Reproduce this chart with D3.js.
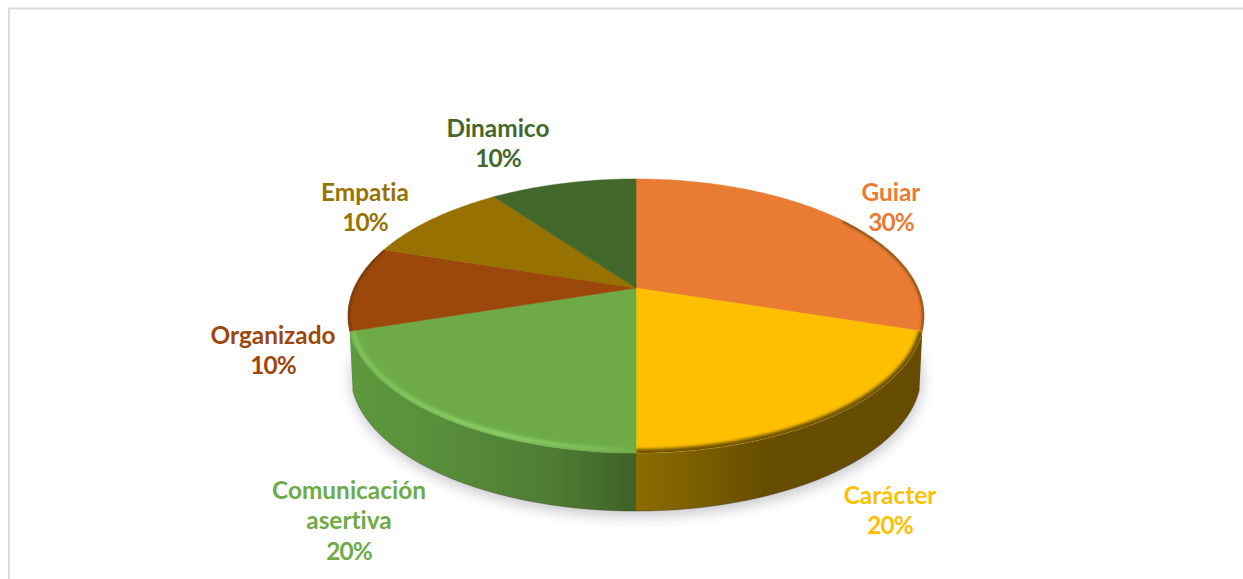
<!DOCTYPE html>
<html>
<head>
<meta charset="utf-8">
<script src="https://cdn.jsdelivr.net/npm/d3@7/dist/d3.min.js"></script>
<style>
  html, body { margin: 0; padding: 0; background: #fff; }
  svg { display: block; }
  text { font-family: Lato, "Open Sans", sans-serif; font-weight: 700; font-variant-ligatures: none; }
</style>
</head>
<body>
<svg id="chart" width="1243" height="579"></svg>
<script>
// Share of each leadership trait
const categories = ["Guiar", "Carácter", "Comunicación asertiva", "Organizado", "Empatia", "Dinamico"];
const shares = [30, 20, 20, 10, 10, 10];

// Face colour of each wedge, also used for its label
const faceColors = ["#E97B33", "#FDBF00", "#6EAB47", "#9C470B", "#977200", "#43682B"];

// Label block centres and line breaks
const labelCenterX = [891, 890, 349, 273, 365, 498];
const labelFirstLineY = [192, 495, 490, 335, 192, 128];
const labelLines = [["Guiar"], ["Carácter"], ["Comunicación", "asertiva"], ["Organizado"], ["Empatia"], ["Dinamico"]];

const W = 1243, H = 579;
const svg = d3.select("#chart");
const defs = svg.append("defs");

// Perspective disc: the pie's centre sits above the centre of the projected ellipse
const cx = 636, cy = 288, halfWidth = 282, halfDepth = 131.3, tilt = -0.2044;
const wallDrop = 58, wallScale = 0.99;

function rimPoint(angle, lower) {
  const u = Math.sin(angle), v = -Math.cos(angle);
  const w = 1 + tilt * v;
  const s = lower ? wallScale : 1;
  return [
    cx + s * halfWidth * u / w,
    cy + (lower ? wallDrop : 0) + halfDepth * v / w
  ];
}

const step = Math.PI / 180;
const sweep = (a0, a1) => {
  const n = Math.max(2, Math.ceil(Math.abs(a1 - a0) / step));
  return d3.range(n + 1).map(i => a0 + (a1 - a0) * i / n);
};
const line = d3.line();
const closed = d3.line().curve(d3.curveLinearClosed);

const arcs = d3.pie().sort(null).value(d => d)(shares);
const total = d3.sum(shares);
const pct = d3.format(".0%");

// Frame of the chart area, open to the right and below
svg.append("path")
  .attr("d", `M9,${H} V8.5 H${W}`)
  .attr("fill", "none").attr("stroke", "#dcdcdc").attr("stroke-width", 2);

// Filters
const blur = (id, sd) => defs.append("filter")
  .attr("id", id).attr("x", "-20%").attr("y", "-20%").attr("width", "140%").attr("height", "140%")
  .append("feGaussianBlur").attr("stdDeviation", sd);
blur("softShadow", 7);
blur("softRim", 1.8);

// Horizontal shading for the visible walls
function wallGradient(id, stops) {
  const g = defs.append("linearGradient").attr("id", id)
    .attr("gradientUnits", "userSpaceOnUse").attr("x1", 347).attr("x2", 925).attr("y1", 0).attr("y2", 0);
  stops.forEach(([x, c]) => g.append("stop").attr("offset", (x - 347) / 578).attr("stop-color", c));
}
wallGradient("wall1", [[636, "#8b6c00"], [700, "#7a5d00"], [770, "#654c00"], [925, "#654c00"]]);
wallGradient("wall2", [[347, "#5f993d"], [450, "#578c3a"], [560, "#4c7b32"], [636, "#3f6127"]]);
wallGradient("rim2", [[347, "#7fc15a"], [500, "#8ccf66"], [600, "#7cbb57"], [636, "#6fac49"]]);

const faceRoot = svg.append("g");

// Ground shadow under the disc
const outerAngles = sweep(0, 2 * Math.PI);
faceRoot.append("path")
  .attr("d", closed(outerAngles.map(a => {
    const p = rimPoint(a, true);
    return [p[0] + 1, p[1] + 5];
  })))
  .attr("fill", "#8d8d9a").attr("opacity", 0.5)
  .attr("filter", "url(#softShadow)");

// Only the two large front wedges show a wall; the others end at the silhouette
const wallWedges = new Set([1, 2]);
arcs.forEach((d, i) => {
  if (!wallWedges.has(i)) return;
  const top = sweep(d.startAngle, d.endAngle).map(a => rimPoint(a, false));
  const bottom = sweep(d.endAngle, d.startAngle).map(a => rimPoint(a, true));
  faceRoot.append("path")
    .attr("d", closed(top.concat(bottom)))
    .attr("fill", `url(#wall${i})`);
});

// Clean dark line along the base of the walls
faceRoot.append("path")
  .attr("d", line(sweep(108 * step, 252 * step).map(a => rimPoint(a, true))))
  .attr("fill", "none").attr("stroke", "#3b3a1e").attr("stroke-width", 0.8).attr("opacity", 0.5);

// Top face wedges
const wedge = d => closed([[cx, cy]].concat(sweep(d.startAngle, d.endAngle).map(a => rimPoint(a, false))));
arcs.forEach((d, i) => {
  faceRoot.append("path")
    .attr("d", wedge(d))
    .attr("fill", faceColors[i])
    .attr("stroke", faceColors[i]).attr("stroke-width", 0.5);
});

// Soft bevel at the rim, kept inside each wedge; sweep limits are in degrees
const rimStyles = [
  { stroke: "#5e4510", width: 3, from: 55, to: 108, inset: 0 },
  { stroke: "#6e5200", width: 8, from: 108, to: 180, inset: 0 },
  { stroke: "url(#rim2)", width: 4.5, from: 180, to: 252, inset: 3.5 },
  { stroke: "#5f2c08", width: 2.2, from: 252, to: 288, inset: 0 }
];
rimStyles.forEach((r, i) => {
  const id = `clipWedge${i}`;
  defs.append("clipPath").attr("id", id).append("path").attr("d", wedge(arcs[i]));
  const pts = sweep(r.from * step, r.to * step).map(a => {
    const p = rimPoint(a, false);
    const dx = cx - p[0], dy = 316 - p[1];
    const len = Math.hypot(dx, dy);
    return [p[0] + r.inset * dx / len, p[1] + r.inset * dy / len];
  });
  faceRoot.append("g").attr("clip-path", `url(#${id})`)
    .append("path")
    .attr("d", line(pts))
    .attr("fill", "none")
    .attr("stroke", r.stroke)
    .attr("stroke-width", r.width)
    .attr("filter", "url(#softRim)");
});

// Labels: name on its lines, percentage on the last line
const lineStep = 30.5;
const labels = svg.append("g")
  .selectAll("text").data(arcs).join("text")
  .attr("text-anchor", "middle")
  .attr("font-size", 24.4)
  .attr("fill", (d, i) => faceColors[i]);

labels.each(function (d, i) {
  const names = labelLines[i];
  const lines = names.concat(pct(shares[i] / total));
  d3.select(this).selectAll("tspan").data(lines).join("tspan")
    .attr("x", labelCenterX[i])
    .attr("y", (t, j) => labelFirstLineY[i] + j * lineStep)
    .attr("dy", "0.35em")
    .attr("letter-spacing", (t, j) => j === names.length ? -0.9 : 0)
    .text(t => t);
});
</script>
</body>
</html>
